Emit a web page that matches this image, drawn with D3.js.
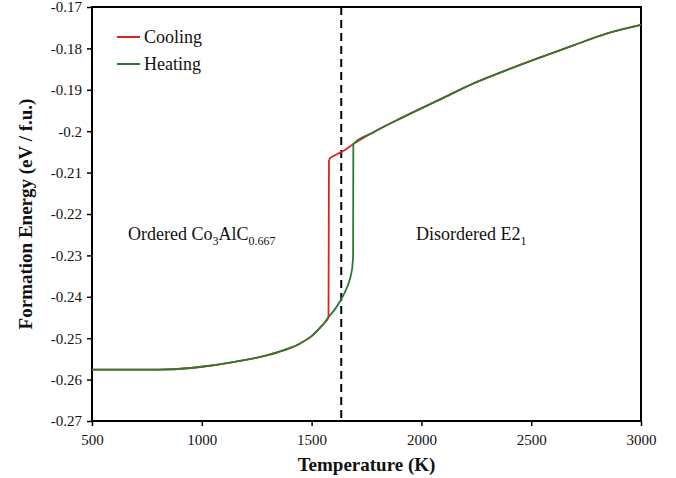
<!DOCTYPE html>
<html><head><meta charset="utf-8">
<script src="https://cdn.jsdelivr.net/npm/d3@7"></script>
<style>body{margin:0;background:#fff}svg{display:block}text{font-family:"Liberation Serif","Times New Roman",serif}</style>
</head><body>
<script>
const heatingT = [500,800,950,1000,1150,1300,1400,1450,1500,1540,1560,1577,1605,1630,1655,1670,1680,1686,1689,1690,1780,1905,2090,2240,2390,2545,2695,2850,3000];
const heatingE = [-0.2576,-0.2576,-0.2572,-0.2569,-0.2557,-0.2541,-0.2524,-0.2512,-0.2495,-0.2474,-0.2462,-0.2449,-0.2431,-0.2410,-0.2385,-0.2365,-0.2345,-0.2325,-0.2300,-0.2031,-0.2003,-0.1969,-0.1922,-0.1884,-0.1852,-0.1821,-0.1792,-0.1763,-0.1743];
const coolingT = [500,800,950,1000,1150,1300,1400,1450,1500,1540,1560,1577,1579,1583,1600,1650,1690,1780,1905,2090,2240,2390,2545,2695,2850,3000];
const coolingE = [-0.2576,-0.2576,-0.2572,-0.2569,-0.2557,-0.2541,-0.2524,-0.2512,-0.2495,-0.2474,-0.2462,-0.2449,-0.2072,-0.2066,-0.2060,-0.2046,-0.2031,-0.2003,-0.1969,-0.1922,-0.1884,-0.1852,-0.1821,-0.1792,-0.1763,-0.1743];
const xTicks = [500,1000,1500,2000,2500,3000];
const yTicks = [-0.17,-0.18,-0.19,-0.2,-0.21,-0.22,-0.23,-0.24,-0.25,-0.26,-0.27];
const yTickLabels = ["-0.17","-0.18","-0.19","-0.2","-0.21","-0.22","-0.23","-0.24","-0.25","-0.26","-0.27"];
const transitionT = 1635;
const seriesNames = ["Cooling","Heating"];
const seriesColors = ["#e0221c","#2b7a34"];

const W=676,H=478, m={l:92,r:35,t:7,b:57};
const svg=d3.select("body").append("svg").attr("width",W).attr("height",H);
const x=d3.scaleLinear().domain([500,3000]).range([m.l,W-m.r]);
const y=d3.scaleLinear().domain([-0.27,-0.17]).range([H-m.b,m.t]);

const xa=svg.append("g").attr("transform",`translate(0,${H-m.b})`)
 .call(d3.axisBottom(x).tickValues(xTicks).tickSize(5).tickPadding(8).tickFormat(d3.format("d")));
const ya=svg.append("g").attr("transform",`translate(${m.l},0)`)
 .call(d3.axisLeft(y).tickValues(yTicks).tickSize(5).tickPadding(5).tickFormat((d,i)=>yTickLabels[i]));
[xa,ya].forEach(a=>{a.select(".domain").remove();a.selectAll("line").attr("stroke","#000").attr("stroke-width",1.5);
 a.selectAll("text").attr("font-size",15).attr("fill","#111").style("font-family",'"Liberation Serif",serif');});

svg.append("rect").attr("x",m.l).attr("y",m.t).attr("width",W-m.r-m.l).attr("height",H-m.b-m.t)
 .attr("fill","none").attr("stroke","#000").attr("stroke-width",2);

svg.append("line").attr("x1",x(transitionT)).attr("x2",x(transitionT)).attr("y1",y(-0.17)).attr("y2",y(-0.27))
 .attr("stroke","#000").attr("stroke-width",2).attr("stroke-dasharray","8,5");

const line=d3.line().x(d=>x(d[0])).y(d=>y(d[1])).curve(d3.curveMonotoneX);
const cool=coolingT.map((t,i)=>[t,coolingE[i]]);
const heat=heatingT.map((t,i)=>[t,heatingE[i]]);
svg.append("path").datum(cool).attr("d",line).attr("fill","none").attr("stroke",seriesColors[0]).attr("stroke-width",1.8);
svg.append("path").datum(heat).attr("d",line).attr("fill","none").attr("stroke",seriesColors[1]).attr("stroke-width",1.8);

seriesNames.forEach((n,i)=>{
 const ly=37+i*27;
 svg.append("line").attr("x1",117).attr("x2",140).attr("y1",ly).attr("y2",ly).attr("stroke",seriesColors[i]).attr("stroke-width",2);
 svg.append("text").attr("x",144).attr("y",ly+6).attr("font-size",18).attr("fill","#111").text(n);
});

const t1=svg.append("text").attr("x",128).attr("y",240).attr("font-size",18).attr("fill","#111");
t1.append("tspan").text("Ordered Co");
t1.append("tspan").attr("font-size",12).attr("dy",5).text("3");
t1.append("tspan").attr("dy",-5).text("AlC");
t1.append("tspan").attr("font-size",12).attr("dy",5).text("0.667");
const t2=svg.append("text").attr("x",416).attr("y",240).attr("font-size",18).attr("fill","#111");
t2.append("tspan").text("Disordered E2");
t2.append("tspan").attr("font-size",12).attr("dy",5).text("1");

svg.append("text").attr("x",(m.l+W-m.r)/2).attr("y",471).attr("text-anchor","middle").attr("font-size",19).attr("font-weight","bold").attr("fill","#111").text("Temperature (K)");
svg.append("text").attr("transform",`translate(32,${(m.t+H-m.b)/2}) rotate(-90)`).attr("text-anchor","middle").attr("font-size",19).attr("font-weight","bold").attr("fill","#111").text("Formation Energy (eV / f.u.)");
</script>
</body></html>
